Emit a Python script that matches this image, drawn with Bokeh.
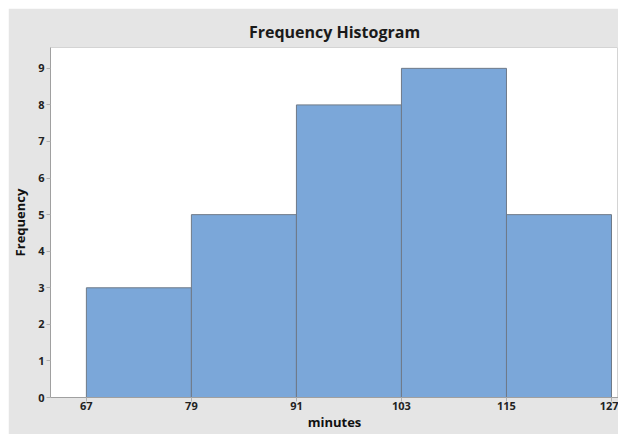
from bokeh.plotting import figure
from bokeh.embed import file_html
from bokeh.resources import INLINE
from bokeh.models import FixedTicker, Range1d

bin_edges = [67, 79, 91, 103, 115, 127]
counts = [3, 5, 8, 9, 5]
y_ticks = [0, 1, 2, 3, 4, 5, 6, 7, 8, 9]

p = figure(width=610, height=426, output_backend="svg", toolbar_location=None,
           x_range=Range1d(62.9, 127.8), y_range=Range1d(0, 9.57),
           title="Frequency Histogram", margin=(8, 0, 0, 8))
p.min_border_left = 42
p.min_border_right = 0
p.min_border_top = 39
p.min_border_bottom = 37
p.border_fill_color = "#e5e5e5"
p.background_fill_color = "white"
p.outline_line_color = "#d4d4d4"
p.grid.visible = False

p.quad(left=bin_edges[:-1], right=bin_edges[1:], bottom=0, top=counts,
       fill_color="#7ba7d9", line_color="#6f7a88", line_width=1)

p.title.align = "center"
p.title.text_font = "Open Sans"
p.title.text_font_size = "16px"
p.title.text_font_style = "bold"
p.title.text_color = "#1a1a1a"
p.title.offset = 0

for ax in (p.xaxis, p.yaxis):
    ax.axis_line_color = "#a0a0a0"
    ax.major_tick_line_color = "#b0b0b0"
    ax.minor_tick_line_color = None
    ax.major_tick_out = 4
    ax.major_tick_in = 0
    ax.major_label_text_font = "Open Sans"
    ax.major_label_text_font_size = "11px"
    ax.major_label_text_font_style = "bold"
    ax.major_label_text_color = "#222222"
    ax.axis_label_text_font = "Open Sans"
    ax.axis_label_text_font_size = "13px"
    ax.axis_label_text_font_style = "bold"
    ax.axis_label_text_color = "#111111"

p.xaxis.ticker = FixedTicker(ticks=bin_edges)
p.yaxis.ticker = FixedTicker(ticks=y_ticks)
p.xaxis.axis_label = "minutes"
p.yaxis.axis_label = "Frequency"
p.xaxis.major_label_standoff = 0
p.yaxis.major_label_standoff = 2
p.xaxis.axis_label_standoff = 0
p.yaxis.axis_label_standoff = 6

open("out.html", "w").write(file_html(p, INLINE))
